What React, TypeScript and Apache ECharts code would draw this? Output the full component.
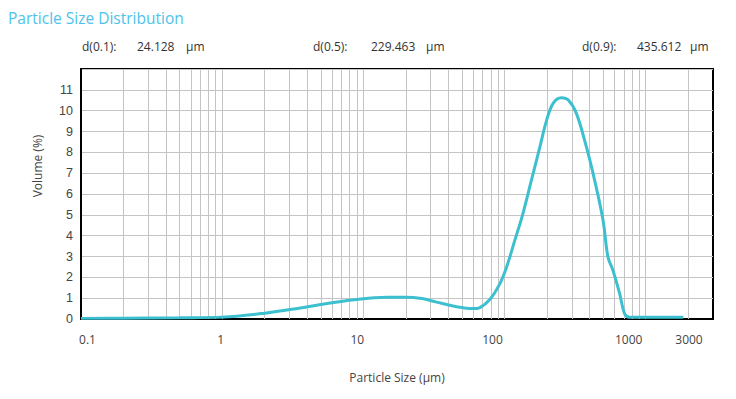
import React, { useEffect, useRef } from "react";
import * as echarts from "echarts";

// ---- Data ----
const TITLE = "Particle Size Distribution";
const dLabels = ["d(0.1):", "d(0.5):", "d(0.9):"];
const dValues = ["24.128", "229.463", "435.612"];
const dUnit = "μm";

const xAxisName = "Particle Size (μm)";
const yAxisName = "Volume (%)";

// particle size (μm) and volume (%)
const sizes = [0.1, 0.2, 0.5, 1, 2, 3.5, 6, 10, 15, 20, 26, 33, 45, 60, 67, 79, 92, 103, 118, 135, 155, 178, 198, 221, 253, 282, 323, 380, 435, 499, 541, 587, 655, 710, 771, 907, 1850];
const volumes = [0.03, 0.04, 0.06, 0.09, 0.28, 0.52, 0.78, 0.97, 1.04, 1.05, 0.98, 0.81, 0.6, 0.5, 0.55, 0.95, 1.65, 2.45, 3.75, 5.05, 6.65, 8.25, 9.5, 10.35, 10.62, 10.52, 9.87, 8.27, 6.66, 4.74, 2.97, 2.33, 1.21, 0.25, 0.09, 0.09, 0.09];

const xTickLabels = ["0.1", "1", "10", "100", "1000", "3000"];
const yTickLabels = ["0", "1", "2", "3", "4", "5", "6", "7", "8", "9", "10", "11"];

// vertical grid lines of the log axis
const gridLineValues = [
  0.2, 0.3, 0.4, 0.5, 0.6, 0.7, 0.8, 0.9,
  1, 2, 3, 4, 5, 6, 7, 8, 9,
  10, 20, 30, 40, 50, 60, 70, 80, 90,
  100, 200, 300, 400, 500, 600, 700, 800, 900,
  1000, 2000,
];

// ---- Styles ----
const FONT = "'Open Sans', 'Noto Sans', sans-serif";
const LABEL_COLOR = "#444";
const GRID_COLOR = "#c4c4c4";
const LINE_COLOR = "#3cc0cf";
// horizontal shift of each x tick label (px) to match reference placement
const labelShift: Record<string, number> = { "0.1": 6.5, "1": -1.5, "10": -6, "100": -12, "1000": -17, "3000": -24 };

export default function App() {
  const ref = useRef<HTMLDivElement>(null);

  useEffect(() => {
    document.body.style.margin = "0";
    if (!ref.current) return;
    const chart = echarts.init(ref.current, undefined, { renderer: "svg" });

    const rich: Record<string, any> = {};
    xTickLabels.forEach((l, i) => {
      const s = labelShift[l] || 0;
      rich["t" + i] = {
        color: LABEL_COLOR,
        fontSize: 12,
        fontFamily: FONT,
        padding: s >= 0 ? [0, 0, 0, 2 * s] : [0, -2 * s, 0, 0],
      };
    });

    const fmtX = (v: number) => {
      const s = String(Number(Number(v).toPrecision(4)));
      const i = xTickLabels.indexOf(s);
      return i >= 0 ? `{t${i}|${s}}` : "";
    };

    const data = sizes.map((s, i) => [s, volumes[i]]);

    const textEls: any[] = [];
    const labelX = [82, 313, 582];
    const valueX = [137, 371, 637];
    const unitX = [186, 426, 690];
    dLabels.forEach((l, i) => {
      const common = { fill: "#333", fontSize: 12, fontFamily: FONT, textVerticalAlign: "middle" };
      textEls.push({ type: "text", x: labelX[i], y: 46, style: { ...common, text: l } });
      textEls.push({ type: "text", x: valueX[i], y: 46, style: { ...common, text: dValues[i] } });
      textEls.push({ type: "text", x: unitX[i], y: 46, style: { ...common, text: dUnit } });
    });

    chart.setOption({
      animation: false,
      backgroundColor: "#fff",
      title: {
        text: TITLE,
        left: 3,
        top: 5,
        textStyle: { color: "#4dc3ea", fontSize: 15.5, fontWeight: "normal", fontFamily: FONT },
      },
      graphic: textEls,
      grid: {
        left: 81,
        right: 23,
        top: 69,
        bottom: 80,
        show: true,
        borderColor: "#000",
        borderWidth: 2,
        backgroundColor: "transparent",
      },
      xAxis: {
        type: "log",
        logBase: 10,
        min: 0.1,
        max: 3000,
        name: xAxisName,
        nameLocation: "middle",
        nameGap: 52,
        nameTextStyle: { color: LABEL_COLOR, fontSize: 12, fontFamily: FONT },
        axisLine: { show: true, lineStyle: { color: "#000", width: 2 } },
        axisTick: { show: false },
        splitLine: { show: false },
        minorSplitLine: { show: false },
        axisLabel: {
          margin: 14,
          color: LABEL_COLOR,
          fontSize: 12,
          fontFamily: FONT,
          formatter: fmtX,
          rich,
        },
      },
      yAxis: {
        type: "value",
        min: 0,
        max: 12,
        interval: 1,
        name: yAxisName,
        nameLocation: "middle",
        nameGap: 38,
        nameTextStyle: { color: LABEL_COLOR, fontSize: 12, fontFamily: FONT, padding: [0, 0, 0, 56] },
        axisLine: { show: true, lineStyle: { color: "#000", width: 2 } },
        axisTick: { show: false },
        splitLine: { show: true, lineStyle: { color: GRID_COLOR, width: 1 } },
        axisLabel: {
          margin: 8,
          color: LABEL_COLOR,
          fontSize: 12.5,
          fontFamily: "'Liberation Sans', Arial, sans-serif",
          padding: [0, 0, 10, 0],
          formatter: (v: number) => yTickLabels[v] ?? "",
        },
      },
      series: [
        {
          type: "line",
          name: "grid",
          data,
          z: 1,
          silent: true,
          showSymbol: false,
          lineStyle: { opacity: 0 },
          markLine: {
            silent: true,
            z: 1,
            symbol: ["none", "none"],
            label: { show: false },
            lineStyle: { color: GRID_COLOR, width: 1, type: "solid" },
            data: gridLineValues.map((v) => ({ xAxis: v })),
          },
        },
        {
          type: "line",
          name: "Volume",
          data,
          z: 3,
          smooth: 0.35,
          showSymbol: false,
          lineStyle: { color: LINE_COLOR, width: 3 },
        },
      ],
    });

    return () => chart.dispose();
  }, []);

  return (
    <div
      ref={ref}
      style={{ position: "fixed", left: 0, top: 0, width: 736, height: 399 }}
    />
  );
}
